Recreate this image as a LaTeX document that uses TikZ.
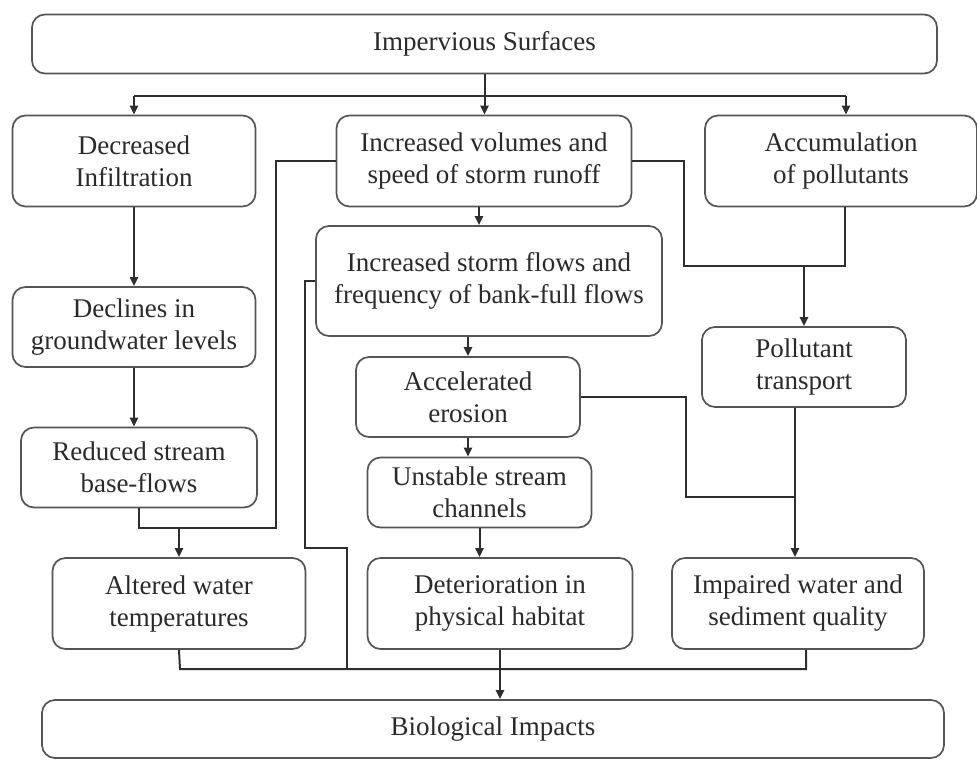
\documentclass[tikz,border=0pt]{standalone}
\usepackage{fontspec}
\setmainfont{Liberation Serif}
\usetikzlibrary{arrows.meta}
\definecolor{boxc}{HTML}{555555}
\definecolor{linec}{HTML}{2E2E2E}
\definecolor{txtc}{HTML}{2A2A2A}
\begin{document}
\begin{tikzpicture}[x=1pt,y=-1pt,
  box/.style={draw=boxc, line width=1.7pt, rounded corners=13pt, align=center,
    inner sep=0pt, text=txtc, font=\fontsize{27}{32}\selectfont},
  ln/.style={draw=linec, line width=2pt},
  arr/.style={ln, -{Triangle[length=9pt,width=8pt]}}]
\useasboundingbox (0,0) rectangle (977,761);

% nodes
\node[box, minimum width=905pt, minimum height=59pt] (imp) at (484.5,44) {Impervious Surfaces};
\node[box, minimum width=243pt, minimum height=91pt] (decr) at (134,161) {Decreased\\Infiltration};
\node[box, minimum width=295pt, minimum height=91pt] (incv) at (484,161) {Increased volumes and\\speed of storm runoff};
\node[box, minimum width=272pt, minimum height=91pt] (accum) at (841,161) {Accumulation\\of pollutants};
\node[box, minimum width=346pt, minimum height=110pt] (storm) at (489,281) {Increased storm flows and\\frequency of bank-full flows};
\node[box, minimum width=243pt, minimum height=80pt] (decl) at (134,327) {Declines in\\groundwater levels};
\node[box, minimum width=224pt, minimum height=80pt] (accel) at (468,397) {Accelerated\\erosion};
\node[box, minimum width=204pt, minimum height=80pt] (poll) at (804,367) {Pollutant\\transport};
\node[box, minimum width=236pt, minimum height=80pt] (red) at (139,467.5) {Reduced stream\\base-flows};
\node[box, minimum width=224pt, minimum height=70pt] (unst) at (479.5,492.5) {Unstable stream\\channels};
\node[box, minimum width=253pt, minimum height=91pt] (alt) at (179,603.5) {Altered water\\temperatures};
\node[box, minimum width=265pt, minimum height=91pt] (det) at (500,603.5) {Deterioration in\\physical habitat};
\node[box, minimum width=252pt, minimum height=91pt] (imq) at (798,603.5) {Impaired water and\\sediment quality};
\node[box, minimum width=902pt, minimum height=58pt] (bio) at (493,729) {Biological Impacts};

% junction points
\coordinate (jl) at (134,96);
\coordinate (jr) at (846,96);
\coordinate (m1) at (276,528);
\coordinate (m2) at (684,266);
\coordinate (m3) at (845,266);
\coordinate (m4) at (305,548);
\coordinate (m5) at (347,548);
\coordinate (m6) at (686,497);
\coordinate (m7) at (795,497);
\coordinate (bl) at (180,669);
\coordinate (br) at (806,669);

% top distribution
\draw[ln] (imp.south) -- (imp.south |- jl);
\draw[ln] (jl) -- (jr);
\draw[arr] (jl) -- (decr.north);
\draw[arr] (imp.south |- jl) -- (imp.south |- incv.north);
\draw[arr] (jr) -- (jr |- accum.north);

% left column
\draw[arr] (decr.south) -- (decr.south |- decl.north);
\draw[arr] (decl.south) -- (decl.south |- red.north);
\draw[ln] (incv.west) -| (m1) -- (red.south |- m1) -- (red.south);
\draw[arr] (alt.north |- m1) -- (alt.north);

% middle column
\draw[arr] ([xshift=-5pt]incv.south) -- ([xshift=-5pt]incv.south |- storm.north);
\draw[arr] (storm.south -| accel.north) -- (accel.north);
\draw[arr] (accel.south) -- (accel.south |- unst.north);
\draw[arr] (unst.south) -- (unst.south |- det.north);
\draw[ln] (storm.west) -| (m4) -- (m5) -- (m5 |- bl);

% right column
\draw[ln] (incv.east) -| (m2) -- (m3) -- (m3 |- accum.south);
\draw[arr] (poll.north |- m2) -- (poll.north);
\draw[ln] (accel.east) -| (m6) -- (m7);
\draw[arr] (m7 |- poll.south) -- (m7 |- imq.north);

% bottom collection
\draw[ln] (alt.south) -- (bl) -- (br) -- (br |- imq.south);
\draw[arr] (det.south) -- (det.south |- bio.north);
\end{tikzpicture}
\end{document}
